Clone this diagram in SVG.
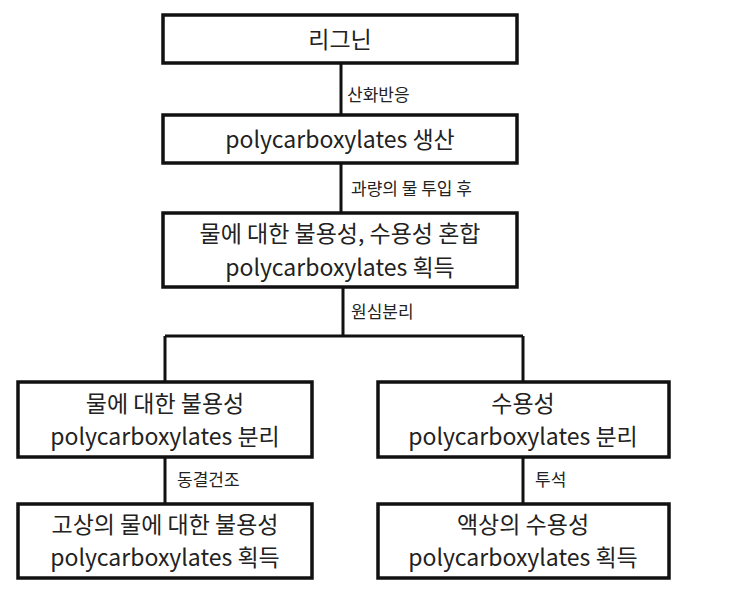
<svg xmlns="http://www.w3.org/2000/svg" width="743" height="601" viewBox="0 0 743 601">
<style>
.b{fill:#fff;stroke:#111;stroke-width:3.5}
.t{font-family:"Noto Sans CJK KR","Noto Sans",sans-serif;font-size:23px;fill:#222;text-anchor:middle}
.l{font-family:"Noto Sans CJK KR","Noto Sans",sans-serif;font-size:17px;fill:#222}
.c{fill:none;stroke:#111;stroke-width:3}
</style>
<rect width="743" height="601" fill="#fff"/>
<g id="connectors">
<path class="c" d="M341 63V115M341 163V213M343 287V336M165 336H523M165 336V382M523 336V382M165 457V504M523 457V504"/>
<text class="l" x="347" y="101">산화반응</text>
<text class="l" x="351" y="195">과량의 물 투입 후</text>
<text class="l" x="351" y="318">원심분리</text>
<text class="l" x="177" y="486">동결건조</text>
<text class="l" x="535" y="486">투석</text>
</g>
<g id="n1"><rect class="b" x="163" y="15" width="354" height="48"/><text class="t" x="340" y="48">리그닌</text></g>
<g id="n2"><rect class="b" x="163" y="115" width="354" height="48"/><text class="t" x="340" y="148">polycarboxylates 생산</text></g>
<g id="n3"><rect class="b" x="163" y="213" width="354" height="74"/><text class="t" x="340" y="242" font-size="22">물에 대한 불용성, 수용성 혼합</text><text class="t" x="340" y="276" font-size="22">polycarboxylates 획득</text></g>
<g id="n4"><rect class="b" x="18" y="382" width="294" height="75"/><text class="t" x="165" y="412">물에 대한 불용성</text><text class="t" x="165" y="445">polycarboxylates 분리</text></g>
<g id="n5"><rect class="b" x="378" y="382" width="291" height="75"/><text class="t" x="523" y="412">수용성</text><text class="t" x="523" y="445">polycarboxylates 분리</text></g>
<g id="n6"><rect class="b" x="18" y="504" width="294" height="74"/><text class="t" x="165" y="533">고상의 물에 대한 불용성</text><text class="t" x="165" y="566">polycarboxylates 획득</text></g>
<g id="n7"><rect class="b" x="378" y="504" width="291" height="74"/><text class="t" x="523" y="533">액상의 수용성</text><text class="t" x="523" y="566">polycarboxylates 획득</text></g>
</svg>
